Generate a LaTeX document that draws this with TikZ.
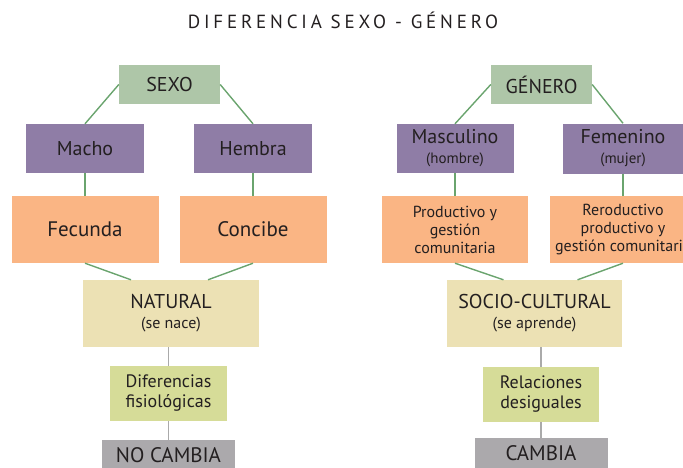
\documentclass[tikz,border=0pt]{standalone}
\usepackage{fontspec}
\setmainfont{PT Sans}
\newfontfamily\titlefont[LetterSpace=20]{PT Sans}
\usetikzlibrary{calc}

\definecolor{sexogreen}{HTML}{AEC6A8}
\definecolor{boxpurple}{HTML}{8F7DA6}
\definecolor{boxorange}{HTML}{FAB584}
\definecolor{boxcream}{HTML}{ECE1B4}
\definecolor{boxlime}{HTML}{D6DC98}
\definecolor{boxgray}{HTML}{ABA9AC}
\definecolor{linegreen}{HTML}{6AA46E}
\definecolor{linegray}{HTML}{AAAAAA}
\definecolor{textdark}{HTML}{231F20}

\newcommand{\fs}[2]{\fontsize{#1}{#2}\selectfont}

\begin{document}
\begin{tikzpicture}[x=1pt,y=-1pt,
  box/.style={rectangle,inner sep=0pt,align=center,text=textdark},
  greenline/.style={draw=linegreen,line width=1.4pt},
  grayline/.style={draw=linegray,line width=1.8pt}]

\useasboundingbox (0,0) rectangle (683,467);
\clip (0,0) rectangle (683,467);

\node [text=textdark] (title) at (343,20.5) {\titlefont\fs{19}{22}DIFERENCIA SEXO - GÉNERO};

% sexo
\node [box,fill=sexogreen,minimum width=101pt,minimum height=39pt,font=\fs{20}{22}] (sexo) at (169.5,84.5) {SEXO};

\node [box,fill=boxpurple,minimum width=118pt,minimum height=49pt,font=\fs{20}{22}] (macho)  at ( 85,148.5) {Macho};
\node [box,fill=boxpurple,minimum width=118pt,minimum height=49pt,font=\fs{20}{22}] (hembra) at (253,148.5) {Hembra};

\node [box,fill=boxorange,minimum width=147pt,minimum height=67pt,font=\fs{21}{23}] (fecunda) at ( 85,229.5) {Fecunda};
\node [box,fill=boxorange,minimum width=147pt,minimum height=67pt,font=\fs{21}{23}] (concibe) at (253,229.5) {Concibe};

\node [box,fill=boxcream,minimum width=176pt,minimum height=67pt,font=\fs{20}{20}] (natural) at (171,313.5) {NATURAL\\{\fs{16}{18}(se nace)}};
\node [box,fill=boxlime,minimum width=117pt,minimum height=55pt,font=\fs{18}{20}] (dif) at (168.5,393.5) {Diferencias\\fisiológicas};
\node [box,fill=boxgray,minimum width=133pt,minimum height=30pt,font=\fs{21}{23}] (nocambia) at (168.5,455) {NO CAMBIA};

% genero
\node [box,fill=sexogreen,minimum width=101pt,minimum height=39pt,font=\fs{20}{22}] (genero) at (541.5,84.5) {GÉNERO};

\node [box,fill=boxpurple,minimum width=117pt,minimum height=49pt,font=\fs{20}{20}] (masc) at (455,148.5) {Masculino\\{\fs{15}{19}(hombre)}};
\node [box,fill=boxpurple,minimum width=120pt,minimum height=50pt,font=\fs{20}{20}] (fem)  at (623,148.5) {Femenino\\{\fs{15}{19}(mujer)}};

\node [box,fill=boxorange,minimum width=146pt,minimum height=67pt,font=\fs{16}{18}] (prod) at (455,229.5) {Productivo y\\gestión\\comunitaria};
\node [box,fill=boxorange,minimum width=146pt,minimum height=67pt,font=\fs{16}{18}] (rero) at (623,229.5) {Reroductivo\\productivo y\\gestión comunitaria};

\node [box,fill=boxcream,minimum width=175pt,minimum height=67pt,font=\fs{20}{20}] (socio) at (534.5,313.5) {SOCIO-CULTURAL\\{\fs{16}{18}(se aprende)}};
\node [box,fill=boxlime,minimum width=116pt,minimum height=55pt,font=\fs{18}{20}] (rel) at (541,394.5) {Relaciones\\desiguales};
\node [box,fill=boxgray,minimum width=133pt,minimum height=30pt,font=\fs{21}{23}] (cambia) at (541,453) {CAMBIA};

\draw [greenline] (sexo.west) to (macho.north);
\draw [greenline] (sexo.east) to (hembra.north);
\draw [greenline] (macho) to (fecunda);
\draw [greenline] (hembra) to (concibe);
\draw [greenline] (fecunda.south) to ($(natural.north)+(-40,0)$);
\draw [greenline] (concibe.south) to ($(natural.north)+( 37,0)$);
\draw [grayline] (dif.north |- natural.south) to (dif.north);
\draw [grayline] (dif) to (nocambia);

\draw [greenline] (genero.west) to (masc.north);
\draw [greenline] (genero.east) to (fem.north);
\draw [greenline] (masc) to (prod);
\draw [greenline] (fem) to (rero);
\draw [greenline] (prod.south) to ($(socio.north)+(-31,0)$);
\draw [greenline] (rero.south) to ($(socio.north)+( 43,0)$);
\draw [grayline] (rel.north |- socio.south) to (rel.north);
\draw [grayline] (rel) to (cambia);

\end{tikzpicture}
\end{document}
